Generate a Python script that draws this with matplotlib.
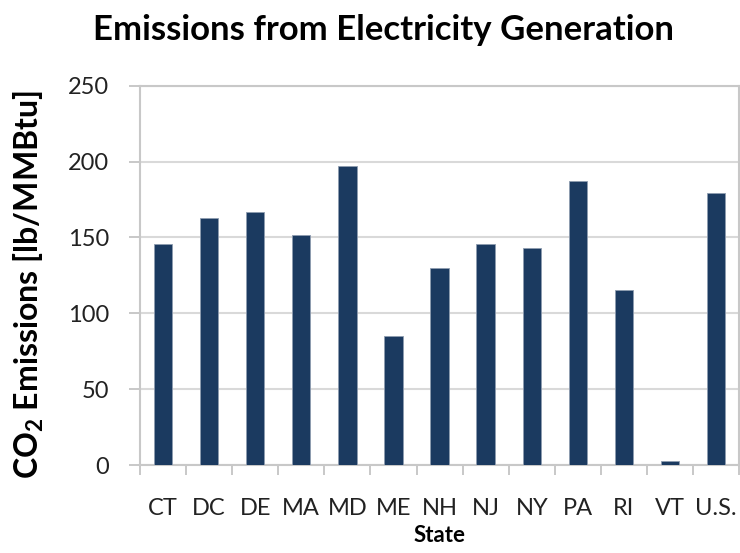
import numpy as np
import matplotlib
matplotlib.use('Agg')
import matplotlib.pyplot as plt

plt.rc('font', family='Lato')
plt.rc('mathtext', fontset='custom', rm='Lato', bf='Lato:bold', default='bf')

states = ['CT', 'DC', 'DE', 'MA', 'MD', 'ME', 'NH', 'NJ', 'NY', 'PA', 'RI', 'VT', 'U.S.']
emissions = [146, 162.5, 167, 151.5, 197, 85, 130, 145.5, 143, 187, 115.5, 2.7, 179.5]
yticks = [0, 50, 100, 150, 200, 250]

bar_color = '#1b3a60'
grid_color = '#d9d9d9'

fig = plt.figure(figsize=(7.4, 5.53), dpi=100)
ax = fig.add_axes([0.189, 0.159, 0.81, 0.686])

x = np.arange(len(states))
ax.bar(x, emissions, width=0.4, color=bar_color, edgecolor='#8e9cb0', linewidth=0.6, zorder=3)

ax.set_xlim(-0.5, len(states) - 0.5)
ax.set_ylim(0, 250)
ax.set_yticks(yticks)
ax.set_xticks(x)
ax.set_xticklabels(states)
ax.set_xticks(np.arange(len(states) + 1) - 0.5, minor=True)

ax.yaxis.grid(True, color=grid_color, linewidth=1.5, zorder=0)
ax.tick_params(axis='x', which='major', length=0, pad=24, labelsize=17, labelcolor='#222222')
ax.tick_params(axis='x', which='minor', length=7, width=1.2, color='#bfbfbf', direction='out')
ax.tick_params(axis='y', length=8, width=1.2, color='#bfbfbf', labelsize=17, labelcolor='#222222', pad=14)

for side in ['left', 'bottom', 'top', 'right']:
    ax.spines[side].set_color('#c8c8c8')
    ax.spines[side].set_linewidth(1.5)

ax.set_xlabel('State', fontsize=16, fontweight='bold', labelpad=4)
ax.set_ylabel('CO$_2$ Emissions [lb/MMBtu]', fontsize=23, fontweight='bold')
ax.yaxis.set_label_coords(-0.157, 0.475)
fig.text(0.518, 0.945, 'Emissions from Electricity Generation', ha='center', va='center',
         fontsize=25, fontweight='bold')

fig.savefig('out.png', dpi=100)
